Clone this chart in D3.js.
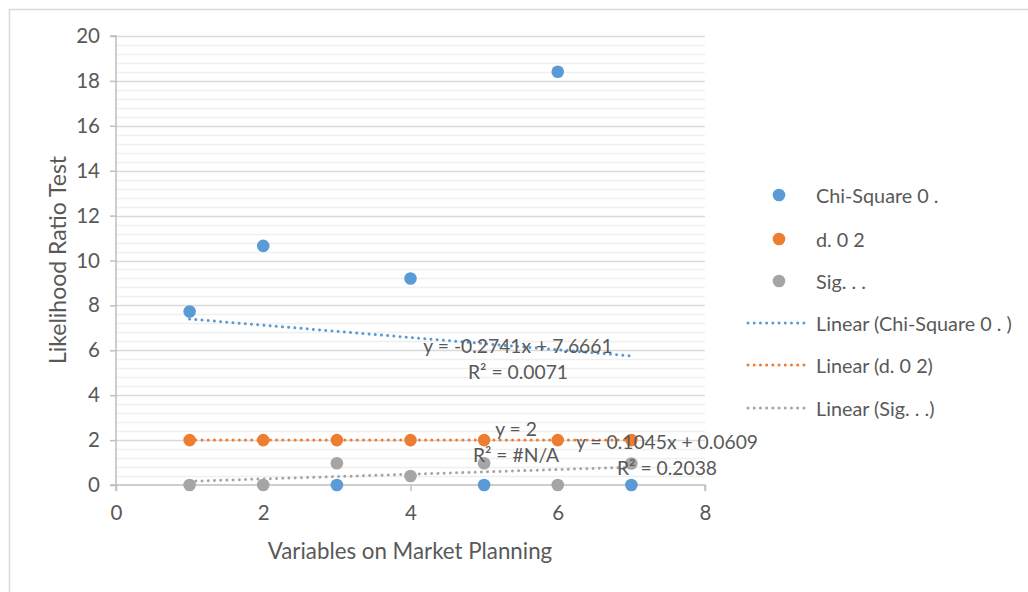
<!DOCTYPE html>
<html>
<head>
<meta charset="utf-8">
<script src="https://cdn.jsdelivr.net/npm/d3@7"></script>
<style>
  html, body { margin: 0; padding: 0; background: #fff; }
  svg { display: block; }
  text { font-family: Lato, "Open Sans", sans-serif; fill: #595959; white-space: pre; }
</style>
</head>
<body>
<svg id="chart" width="1028" height="592"></svg>
<script>
// Observations per variable (x = 1..7)
const xValues = [1, 2, 3, 4, 5, 6, 7];
const chiSquare = [7.73, 10.65, 0, 9.2, 0, 18.41, 0];
const degrees = [2, 2, 2, 2, 2, 2, 2];
const significance = [0, 0, 0.97, 0.4, 0.97, 0, 0.96];

const seriesNames = ["Chi-Square 0 . ", "d. 0 2", "Sig. . ."];
const seriesColors = ["#5b9bd5", "#ed7d31", "#a5a5a5"];

// Linear trend coefficients [slope, intercept] and their labels
const trendSlopes = [-0.2741, 0, 0.1045];
const trendIntercepts = [7.6661, 2, 0.0609];
const trendEquations = ["y = -0.2741x + 7.6661", "y = 2", "y = 0.1045x + 0.0609"];
const trendRSquared = ["R² = 0.0071", "R² = #N/A", "R² = 0.2038"];

const xTicks = [0, 2, 4, 6, 8];
const yTicks = [0, 2, 4, 6, 8, 10, 12, 14, 16, 18, 20];

const svg = d3.select("#chart");

// outer chart frame
svg.append("rect")
  .attr("x", 9.5).attr("y", 9.5)
  .attr("width", 1040).attr("height", 600)
  .attr("fill", "#fff").attr("stroke", "#d9d9d9").attr("stroke-width", 1.5);

const plot = { left: 116, right: 705, top: 36, bottom: 485 };
const x = d3.scaleLinear().domain([0, 8]).range([plot.left, plot.right]);
const y = d3.scaleLinear().domain([0, 20]).range([plot.bottom, plot.top]);

// minor gridlines every 0.4
const minor = d3.range(0, 20.001, 0.4).filter(v => Math.abs(v / 2 - Math.round(v / 2)) > 1e-6);
svg.append("g").selectAll("line").data(minor).join("line")
  .attr("x1", plot.left).attr("x2", plot.right)
  .attr("y1", d => Math.round(y(d)) + 0.5).attr("y2", d => Math.round(y(d)) + 0.5)
  .attr("stroke", "#efefef").attr("stroke-width", 1.5);

// major gridlines
svg.append("g").selectAll("line").data(yTicks.filter(d => d > 0)).join("line")
  .attr("x1", plot.left).attr("x2", plot.right)
  .attr("y1", d => Math.round(y(d)) + 0.5).attr("y2", d => Math.round(y(d)) + 0.5)
  .attr("stroke", "#d9d9d9").attr("stroke-width", 1.5);

// axes
const yAxis = d3.axisLeft(y).tickValues(yTicks).tickSize(6).tickPadding(10).tickFormat(d3.format("d"));
const xAxis = d3.axisBottom(x).tickValues(xTicks).tickSize(6).tickPadding(14).tickFormat(d3.format("d"));

const gy = svg.append("g").attr("transform", `translate(${plot.left},0)`).call(yAxis);
const gx = svg.append("g").attr("transform", `translate(0,${plot.bottom})`).call(xAxis);
[gx, gy].forEach(g => {
  g.select(".domain").attr("stroke", "#bfbfbf").attr("stroke-width", 1.5);
  g.selectAll(".tick line").attr("stroke", "#bfbfbf").attr("stroke-width", 1.5);
  g.selectAll(".tick text").attr("fill", "#595959")
    .style("font-family", "Lato, 'Open Sans', sans-serif").style("font-size", "20.5px");
});
gx.select(".domain").attr("d", `M${plot.left},6V0H${plot.right}V6`);
gy.select(".domain").attr("d", `M-6,${plot.top}H0V${plot.bottom}H-6`);

// series values
const seriesData = [chiSquare, degrees, significance];

// markers
seriesData.forEach((vals, i) => {
  svg.append("g").selectAll("circle").data(vals).join("circle")
    .attr("cx", (d, j) => x(xValues[j]))
    .attr("cy", d => y(d))
    .attr("r", 6.3)
    .attr("fill", seriesColors[i]);
});

// dotted linear trendlines across the observed x range
const x0 = d3.min(xValues), x1 = d3.max(xValues);
seriesData.forEach((vals, i) => {
  svg.append("line")
    .attr("x1", x(x0)).attr("y1", y(trendSlopes[i] * x0 + trendIntercepts[i]))
    .attr("x2", x(x1)).attr("y2", y(trendSlopes[i] * x1 + trendIntercepts[i]))
    .attr("stroke", seriesColors[i]).attr("stroke-width", 3)
    .attr("stroke-linecap", "round").attr("stroke-dasharray", "0.01 6.2");
});

// trendline equation labels
const labelPos = [[518, 345], [516, 428], [667, 441]];
trendEquations.forEach((eq, i) => {
  const [lx, ly] = labelPos[i];
  svg.append("text").attr("x", lx).attr("y", ly).attr("text-anchor", "middle")
    .attr("dominant-baseline", "central").style("font-size", "19.3px").text(eq);
  svg.append("text").attr("x", lx).attr("y", ly + 26).attr("text-anchor", "middle")
    .attr("dominant-baseline", "central").style("font-size", "19.3px").text(trendRSquared[i]);
});

// axis titles
svg.append("text").attr("x", 410).attr("y", 550).attr("text-anchor", "middle")
  .attr("dominant-baseline", "central").style("font-size", "22.3px").text("Variables on Market Planning");
svg.append("text").attr("transform", "translate(57,260) rotate(-90)").attr("text-anchor", "middle")
  .attr("dominant-baseline", "central").style("font-size", "23px").text("Likelihood Ratio Test");

// legend
const legendRows = [195, 239, 281, 323, 365, 408];
const legend = svg.append("g");
seriesNames.forEach((name, i) => {
  legend.append("circle").attr("cx", 779).attr("cy", legendRows[i]).attr("r", 6.3).attr("fill", seriesColors[i]);
  legend.append("text").attr("x", 816).attr("y", legendRows[i]).attr("dominant-baseline", "central")
    .style("font-size", "19.8px").text(name);
});
seriesNames.forEach((name, i) => {
  const ry = legendRows[i + 3];
  legend.append("line").attr("x1", 748).attr("x2", 804).attr("y1", ry).attr("y2", ry)
    .attr("stroke", seriesColors[i]).attr("stroke-width", 3)
    .attr("stroke-linecap", "round").attr("stroke-dasharray", "0.01 6.2");
  legend.append("text").attr("x", 816).attr("y", ry).attr("dominant-baseline", "central")
    .style("font-size", "19.8px").text(`Linear (${name})`);
});
</script>
</body>
</html>
